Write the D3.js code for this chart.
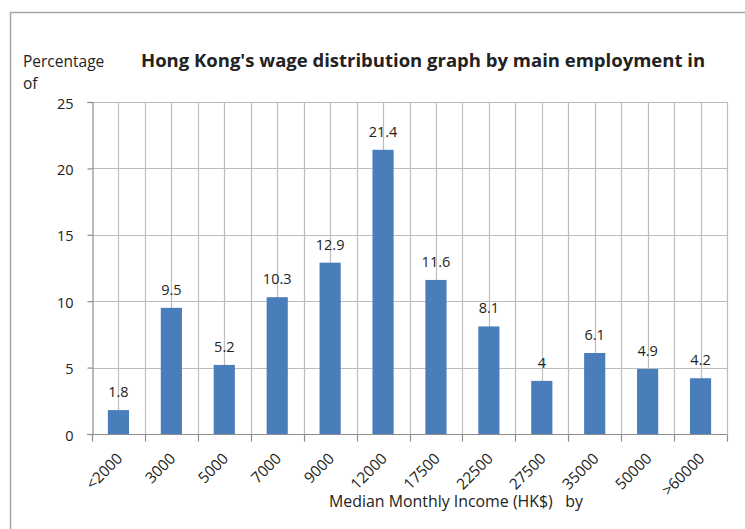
<!DOCTYPE html>
<html>
<head>
<meta charset="utf-8">
<script src="https://cdn.jsdelivr.net/npm/d3@7"></script>
<style>
  html, body { margin: 0; padding: 0; background: #fff; }
  svg { display: block; }
  text { font-family: "Open Sans", "DejaVu Sans", sans-serif; fill: #222; }
</style>
</head>
<body>
<svg id="chart" width="745" height="529"></svg>
<script>
const categories = ["<2000","3000","5000","7000","9000","12000","17500","22500","27500","35000","50000",">60000"];
const values = [1.8, 9.5, 5.2, 10.3, 12.9, 21.4, 11.6, 8.1, 4, 6.1, 4.9, 4.2];
const yTicks = [0, 5, 10, 15, 20, 25];
const titleText = "Hong Kong's wage distribution graph by main employment in";
const yTitleLines = ["Percentage", "of"];
const xTitleText = "Median Monthly Income (HK$)   by";

const svg = d3.select("#chart");
const W = 745, H = 529;
const plot = { left: 92, right: 727, top: 102, bottom: 434 };

// outer chart border (left + top visible)
svg.append("path")
  .attr("d", `M10.5,${H} L10.5,12.5 L${W},12.5`)
  .attr("fill", "none").attr("stroke", "#a6a6a6").attr("stroke-width", 1.5);

const x = d3.scaleBand().domain(categories).range([plot.left, plot.right]).paddingInner(0).paddingOuter(0);
const y = d3.scaleLinear().domain([0, 25]).range([plot.bottom, plot.top]);

const bw = x.bandwidth();

// horizontal gridlines
svg.append("g").selectAll("line").data(yTicks.filter(d => d > 0)).join("line")
  .attr("x1", plot.left).attr("x2", plot.right)
  .attr("y1", d => Math.round(y(d)) + 0.5).attr("y2", d => Math.round(y(d)) + 0.5)
  .attr("stroke", "#bdbdbd").attr("stroke-width", 1.2);

// vertical gridlines: major at boundaries, minor at centers
const vLines = [];
categories.forEach((c, i) => {
  vLines.push(x(c) + bw / 2);
  vLines.push(x(c) + bw);
});
svg.append("g").selectAll("line").data(vLines).join("line")
  .attr("x1", d => Math.round(d) + 0.5).attr("x2", d => Math.round(d) + 0.5)
  .attr("y1", plot.top).attr("y2", plot.bottom)
  .attr("stroke", "#bdbdbd").attr("stroke-width", 1.2);

// bars
const barW = bw * 0.40;
svg.append("g").selectAll("rect").data(values).join("rect")
  .attr("x", (d, i) => x(categories[i]) + bw / 2 - barW / 2)
  .attr("width", barW)
  .attr("y", d => y(d))
  .attr("height", d => y(0) - y(d))
  .attr("fill", "#4a7ebb");

// value labels
svg.append("g").selectAll("text").data(values).join("text")
  .attr("x", (d, i) => x(categories[i]) + bw / 2)
  .attr("y", d => y(d) - 13)
  .attr("text-anchor", "middle")
  .attr("font-size", 14.5)
  .text(d => d);

// y axis
const yAxis = d3.axisLeft(y).tickValues(yTicks).tickSize(5).tickPadding(14).tickFormat(d3.format("d"));
const yg = svg.append("g").attr("transform", `translate(${plot.left + 0.5},0)`).call(yAxis);
yg.select(".domain").attr("stroke", "#8c8c8c").attr("stroke-width", 1.2);
yg.selectAll(".tick line").attr("stroke", "#8c8c8c").attr("stroke-width", 1.2);
yg.selectAll(".tick text").attr("font-size", 14.5).attr("font-family", "Open Sans, sans-serif").attr("fill", "#222").attr("dy", "0.42em");

// x axis
const xg = svg.append("g").attr("transform", `translate(0,${plot.bottom + 0.5})`);
xg.append("line").attr("x1", plot.left - 5).attr("x2", plot.right)
  .attr("stroke", "#8c8c8c").attr("stroke-width", 1.2);
const bounds = [plot.left].concat(categories.map(c => x(c) + bw));
xg.selectAll("line.tk").data(bounds).join("line").attr("class", "tk")
  .attr("x1", d => Math.round(d) + 0.5).attr("x2", d => Math.round(d) + 0.5)
  .attr("y1", 0).attr("y2", 7)
  .attr("stroke", "#8c8c8c").attr("stroke-width", 1.2);
xg.selectAll("text").data(categories).join("text")
  .attr("transform", d => `translate(${x(d) + bw / 2 + 5},${25}) rotate(-45)`)
  .attr("text-anchor", "end")
  .attr("font-size", 15.3)
  .text(d => d);

// title
svg.append("text")
  .attr("x", 141).attr("y", 67)
  .attr("font-size", 18.5).attr("font-weight", "bold")
  .text(titleText);

// y title
svg.append("text").attr("x", 23).attr("y", 67).attr("font-size", 15.5).text(yTitleLines[0]);
svg.append("text").attr("x", 23).attr("y", 89).attr("font-size", 15.5).text(yTitleLines[1]);

// x title
svg.append("text")
  .attr("x", 329).attr("y", 507)
  .attr("font-size", 15.9)
  .attr("xml:space", "preserve")
  .style("white-space", "pre")
  .text(xTitleText);
</script>
</body>
</html>
